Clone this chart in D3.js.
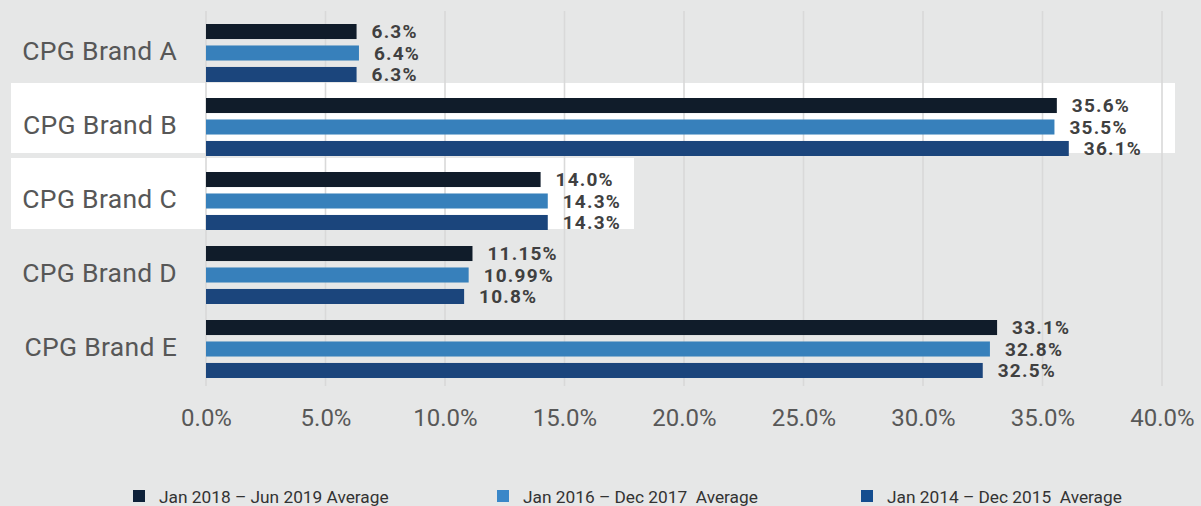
<!DOCTYPE html>
<html>
<head>
<meta charset="utf-8">
<script src="https://cdn.jsdelivr.net/npm/d3@7"></script>
<style>
  html, body { margin: 0; padding: 0; background: #e6e7e7; }
  svg { display: block; }
</style>
</head>
<body>
<svg id="chart" width="1201" height="506"></svg>
<script>
// ---- data ----
const categories = ["CPG Brand A", "CPG Brand B", "CPG Brand C", "CPG Brand D", "CPG Brand E"];
const seriesNames = ["Jan 2018 – Jun 2019 Average", "Jan 2016 – Dec 2017  Average", "Jan 2014 – Dec 2015  Average"];
const series2018_2019 = [6.3, 35.6, 14.0, 11.15, 33.1];
const series2016_2017 = [6.4, 35.5, 14.3, 10.99, 32.8];
const series2014_2015 = [6.3, 36.1, 14.3, 10.8, 32.5];
const xTicks = [0, 5, 10, 15, 20, 25, 30, 35, 40];

const seriesValues = [series2018_2019, series2016_2017, series2014_2015];
const barColors = ["#101c2a", "#3780bb", "#1b457c"];
const legendColors = ["#0e2139", "#3a87c8", "#144d8f"];

const svg = d3.select("#chart");
svg.append("rect").attr("width", 1201).attr("height", 506).attr("fill", "#e6e7e7");

const x = d3.scaleLinear().domain([0, 40]).range([206, 1162]);
const y = d3.scaleBand().domain(categories).range([16, 386]);
const inner = d3.scaleBand().domain(d3.range(3)).range([0, 58]).paddingInner(0.3);

// highlight rectangles
const hl = [
  { cat: "CPG Brand B", x0: 11, x1: 1175, dy: -7, h: 70 },
  { cat: "CPG Brand C", x0: 11, x1: 634, dy: -6, h: 71 }
];
svg.append("g").selectAll("rect").data(hl).join("rect")
  .attr("x", d => d.x0)
  .attr("y", d => y(d.cat) + d.dy)
  .attr("width", d => d.x1 - d.x0)
  .attr("height", d => d.h)
  .attr("fill", "#ffffff");

// gridlines
svg.append("g").selectAll("line").data(xTicks).join("line")
  .attr("x1", d => x(d)).attr("x2", d => x(d))
  .attr("y1", 11).attr("y2", 386)
  .attr("stroke", "#d9d9d9").attr("stroke-width", 1.6);

// x axis labels
const xAxis = d3.axisBottom(x).tickValues(xTicks).tickFormat(d => d.toFixed(1) + "%").tickSize(0).tickPadding(0);
const xg = svg.append("g").attr("transform", "translate(0,409)").call(xAxis);
xg.select(".domain").remove();
xg.selectAll("text")
  .attr("dy", "0.71em")
  .attr("font-family", "Roboto, sans-serif")
  .attr("font-size", 24)
  .attr("fill", "#585858");

// category labels
svg.append("g").selectAll("text").data(categories).join("text")
  .attr("x", 177)
  .attr("y", d => y(d) + y.bandwidth() / 2 + 7)
  .attr("text-anchor", "end")
  .attr("font-family", "Roboto, sans-serif")
  .attr("font-size", 26.5)
  .attr("letter-spacing", 0.3)
  .attr("fill", "#575757")
  .text(d => d);

// bars
const fmt = v => (Math.abs(v * 10 - Math.round(v * 10)) < 1e-9 ? v.toFixed(1) : v.toFixed(2)) + "%";
const barData = [];
categories.forEach((c, i) => {
  seriesValues.forEach((vals, s) => barData.push({ cat: c, s: s, v: vals[i] }));
});
const barY = d => y(d.cat) + y.bandwidth() / 2 - 29 + inner(d.s);

svg.append("g").selectAll("rect").data(barData).join("rect")
  .attr("x", x(0))
  .attr("y", barY)
  .attr("width", d => x(d.v) - x(0))
  .attr("height", inner.bandwidth())
  .attr("fill", d => barColors[d.s]);

svg.append("g").selectAll("text").data(barData).join("text")
  .attr("x", d => x(d.v) + 15)
  .attr("y", d => barY(d) + inner.bandwidth() / 2)
  .attr("dy", "0.36em")
  .attr("font-family", "Roboto, sans-serif")
  .attr("font-weight", 700)
  .attr("font-size", 19)
  .attr("letter-spacing", 1.2)
  .attr("fill", "#404040")
  .text(d => fmt(d.v));

// legend
const legendX = [133, 497, 861];
const lg = svg.append("g").selectAll("g").data(seriesNames).join("g")
  .attr("transform", (d, i) => `translate(${legendX[i]},490)`);
lg.append("rect").attr("width", 12).attr("height", 12).attr("fill", (d, i) => legendColors[i]);
lg.append("text")
  .attr("x", 26).attr("y", 13)
  .attr("font-family", "Roboto, sans-serif")
  .attr("font-size", 17.3)
  .attr("fill", "#333333")
  .attr("xml:space", "preserve")
  .style("white-space", "pre")
  .text(d => d);
</script>
</body>
</html>
